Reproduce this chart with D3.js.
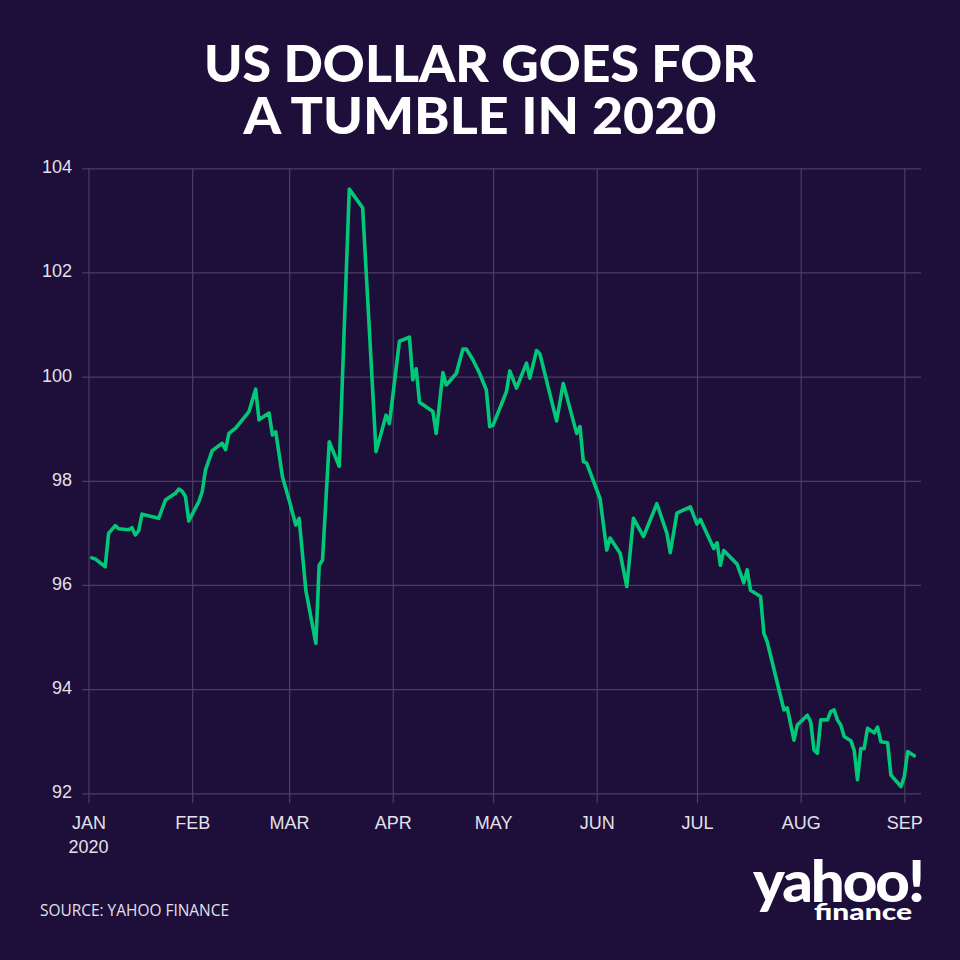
<!DOCTYPE html>
<html>
<head>
<meta charset="utf-8">
<script src="https://cdn.jsdelivr.net/npm/d3@7"></script>
<style>
    html, body { margin: 0; padding: 0; background: #1d0e3a; }
    svg { display: block; }
</style>
</head>
<body>
<svg id="chart"></svg>
<script>
// DXY closes (only the vertices of the line)
const dates = [
    '2020-01-02', '2020-01-03', '2020-01-06', '2020-01-07', '2020-01-09', '2020-01-10', '2020-01-13', '2020-01-14',
    '2020-01-15', '2020-01-16', '2020-01-17', '2020-01-22', '2020-01-24', '2020-01-27', '2020-01-28', '2020-01-29',
    '2020-01-30', '2020-01-31', '2020-02-03', '2020-02-04', '2020-02-05', '2020-02-07', '2020-02-10', '2020-02-11',
    '2020-02-12', '2020-02-14', '2020-02-18', '2020-02-20', '2020-02-21', '2020-02-24', '2020-02-25', '2020-02-26',
    '2020-02-28', '2020-03-01', '2020-03-03', '2020-03-04', '2020-03-06', '2020-03-09', '2020-03-10', '2020-03-11',
    '2020-03-13', '2020-03-16', '2020-03-19', '2020-03-23', '2020-03-27', '2020-03-30', '2020-03-31', '2020-04-03',
    '2020-04-06', '2020-04-07', '2020-04-08', '2020-04-09', '2020-04-13', '2020-04-14', '2020-04-16', '2020-04-17',
    '2020-04-20', '2020-04-22', '2020-04-23', '2020-04-25', '2020-04-27', '2020-04-29', '2020-04-30', '2020-05-01',
    '2020-05-05', '2020-05-06', '2020-05-08', '2020-05-11', '2020-05-12', '2020-05-14', '2020-05-15', '2020-05-20',
    '2020-05-22', '2020-05-26', '2020-05-27', '2020-05-28', '2020-05-29', '2020-06-02', '2020-06-04', '2020-06-05',
    '2020-06-08', '2020-06-10', '2020-06-12', '2020-06-15', '2020-06-19', '2020-06-22', '2020-06-23', '2020-06-25',
    '2020-06-29', '2020-07-01', '2020-07-02', '2020-07-06', '2020-07-07', '2020-07-08', '2020-07-09', '2020-07-13',
    '2020-07-15', '2020-07-16', '2020-07-17', '2020-07-20', '2020-07-21', '2020-07-22', '2020-07-27', '2020-07-28',
    '2020-07-30', '2020-07-31', '2020-08-03', '2020-08-04', '2020-08-05', '2020-08-06', '2020-08-07', '2020-08-09',
    '2020-08-10', '2020-08-11', '2020-08-12', '2020-08-13', '2020-08-14', '2020-08-16', '2020-08-17', '2020-08-18',
    '2020-08-19', '2020-08-20', '2020-08-21', '2020-08-23', '2020-08-24', '2020-08-25', '2020-08-27', '2020-08-28',
    '2020-08-31', '2020-09-01', '2020-09-02', '2020-09-04'
];
const values = [
    96.52, 96.50, 96.35, 96.99, 97.14, 97.08, 97.06, 97.10,
    96.96, 97.04, 97.36, 97.28, 97.63, 97.76, 97.84, 97.80,
    97.70, 97.23, 97.60, 97.79, 98.21, 98.58, 98.72, 98.60,
    98.91, 99.01, 99.33, 99.76, 99.17, 99.30, 98.88, 98.94,
    98.08, 97.63, 97.15, 97.28, 95.90, 94.88, 96.38, 96.48,
    98.75, 98.28, 103.60, 103.24, 98.56, 99.26, 99.10, 100.68,
    100.76, 99.94, 100.15, 99.51, 99.33, 98.91, 100.08, 99.84,
    100.06, 100.53, 100.53, 100.32, 100.06, 99.74, 99.04, 99.07,
    99.71, 100.11, 99.78, 100.26, 99.97, 100.50, 100.44, 99.15,
    99.87, 98.91, 99.04, 98.37, 98.34, 97.66, 96.67, 96.90,
    96.61, 95.97, 97.28, 96.93, 97.56, 96.99, 96.62, 97.38,
    97.50, 97.17, 97.26, 96.70, 96.81, 96.38, 96.66, 96.40,
    96.04, 96.29, 95.90, 95.78, 95.07, 94.91, 93.60, 93.64,
    93.02, 93.31, 93.50, 93.37, 92.83, 92.77, 93.41, 93.41,
    93.57, 93.60, 93.41, 93.31, 93.09, 93.01, 92.83, 92.26,
    92.86, 92.86, 93.25, 93.16, 93.27, 92.99, 92.97, 92.35,
    92.13, 92.32, 92.80, 92.72
];

const monthLabels = ['JAN', 'FEB', 'MAR', 'APR', 'MAY', 'JUN', 'JUL', 'AUG', 'SEP'];
const yTicks = [92, 94, 96, 98, 100, 102, 104];
const titleLines = ['US DOLLAR GOES FOR', 'A TUMBLE IN 2020'];

const W = 960;
const H = 960;
const BG = '#1d0e3a';
const GRID = '#4a3e62';
const LINE = '#00c878';
const LABEL = '#e4e0ea';

const parse = d3.timeParse('%Y-%m-%d');
const data = dates.map((d, i) => ({ date: parse(d), value: values[i] }));

const svg = d3.select('#chart')
    .attr('width', W)
    .attr('height', H)
    .style('font-family', '"Liberation Sans", Arial, sans-serif');

svg.append('rect')
    .attr('width', W)
    .attr('height', H)
    .attr('fill', BG);

// scales: Jan 1 -> Sep 1 along x, 92 -> 104 along y
const x = d3.scaleTime()
    .domain([new Date(2020, 0, 1), new Date(2020, 8, 1)])
    .range([88.5, 904.3]);
const y = d3.scaleLinear()
    .domain([92, 104])
    .range([793.3, 168.3]);

const monthTicks = d3.timeMonth.range(new Date(2020, 0, 1), new Date(2020, 8, 2));

/** title */
svg.append('g')
    .selectAll('text')
    .data(titleLines)
    .enter()
    .append('text')
    .attr('x', 480)
    .attr('y', (d, i) => 82 + i * 52)
    .attr('text-anchor', 'middle')
    .attr('textLength', (d, i) => i === 0 ? 552 : 473)
    .attr('lengthAdjust', 'spacingAndGlyphs')
    .style('font-family', 'Lato, "Open Sans", sans-serif')
    .style('font-weight', 900)
    .style('font-size', '52px')
    .style('fill', '#ffffff')
    .text(d => d);

/** horizontal grid + y labels */
const yAxis = d3.axisLeft(y)
    .tickValues(yTicks)
    .tickSize(-(921 - 82))
    .tickPadding(10)
    .tickFormat(d3.format('d'));

const gy = svg.append('g')
    .attr('transform', 'translate(82,0)')
    .call(yAxis);
gy.select('.domain').remove();
gy.selectAll('.tick line').attr('stroke', GRID).attr('stroke-width', 1.2);
gy.selectAll('.tick text')
    .attr('x', -10)
    .attr('dy', '0.25em')
    .style('fill', LABEL)
    .style('font-size', '18px')
    .style('font-family', '"Liberation Sans", Arial, sans-serif');

/** vertical grid + month labels */
const xAxis = d3.axisBottom(x)
    .tickValues(monthTicks)
    .tickSize(-(803.3 - 168.3))
    .tickPadding(12)
    .tickFormat((d, i) => monthLabels[i]);

const gx = svg.append('g')
    .attr('transform', 'translate(0,803.3)')
    .call(xAxis);
gx.select('.domain').remove();
gx.selectAll('.tick line').attr('stroke', GRID).attr('stroke-width', 1.2);
gx.selectAll('.tick text')
    .attr('y', 26)
    .attr('dy', 0)
    .style('fill', LABEL)
    .style('font-size', '18px')
    .style('font-family', '"Liberation Sans", Arial, sans-serif');

// year under JAN
gx.append('text')
    .attr('x', x(monthTicks[0]))
    .attr('y', 49.4)
    .attr('text-anchor', 'middle')
    .style('fill', LABEL)
    .style('font-size', '18px')
    .text('2020');

/** the dollar line */
const line = d3.line()
    .x(d => x(d.date))
    .y(d => y(d.value));

svg.append('path')
    .datum(data)
    .attr('d', line)
    .attr('fill', 'none')
    .attr('stroke', LINE)
    .attr('stroke-width', 3.6)
    .attr('stroke-linejoin', 'round')
    .attr('stroke-linecap', 'round');

/** footer */
svg.append('text')
    .attr('x', 40)
    .attr('y', 916)
    .attr('textLength', 189)
    .attr('lengthAdjust', 'spacingAndGlyphs')
    .style('font-family', '"Open Sans", sans-serif')
    .style('font-size', '16px')
    .style('fill', LABEL)
    .text('SOURCE: YAHOO FINANCE');

const logo = svg.append('g')
    .style('fill', '#ffffff')
    .style('font-family', 'Lato, "Open Sans", sans-serif')
    .style('font-weight', 900);

logo.append('text')
    .attr('x', 753)
    .attr('y', 902)
    .attr('textLength', 170)
    .attr('lengthAdjust', 'spacingAndGlyphs')
    .style('font-size', '58px')
    .style('letter-spacing', '-2px')
    .text('yahoo!');

logo.append('text')
    .attr('x', 814)
    .attr('y', 920)
    .attr('textLength', 98)
    .attr('lengthAdjust', 'spacingAndGlyphs')
    .style('font-size', '22px')
    .text('finance');
</script>
</body>
</html>
